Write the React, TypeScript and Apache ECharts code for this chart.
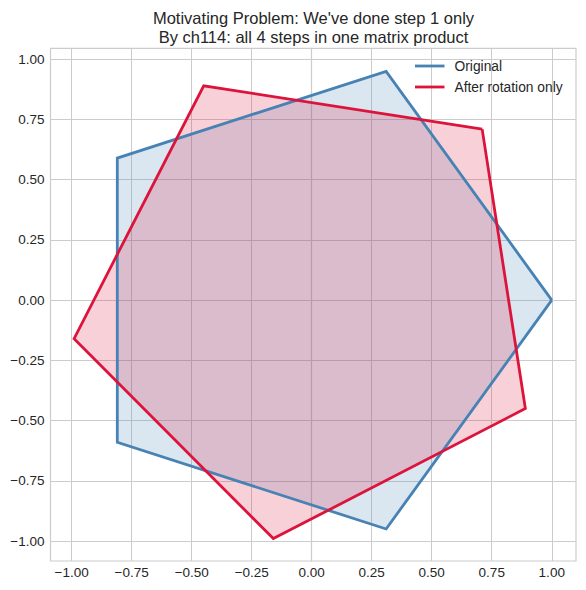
import React, { useEffect, useRef } from "react";
import * as echarts from "echarts";

const TITLE_LINES = [
  "Motivating Problem: We've done step 1 only",
  "By ch114: all 4 steps in one matrix product",
];
const SERIES_NAMES = ["Original", "After rotation only"];
const ORIG_X = [1.0, 0.31, -0.81, -0.81, 0.31];
const ORIG_Y = [0.0, 0.95, 0.59, -0.59, -0.95];
const ROT_X = [0.71, -0.45, -0.99, -0.16, 0.89];
const ROT_Y = [0.71, 0.89, -0.16, -0.99, -0.45];
const X_TICKS = [-1.0, -0.75, -0.5, -0.25, 0.0, 0.25, 0.5, 0.75, 1.0];
const Y_TICKS = [-1.0, -0.75, -0.5, -0.25, 0.0, 0.25, 0.5, 0.75, 1.0];
const X_MIN = -1.0883;
const X_MAX = 1.101;
const Y_MIN = -1.083;
const Y_MAX = 1.0457;

const FONT = "'Liberation Sans', Arial, sans-serif";
const TEXT_COLOR = "#262626";
const GRID_COLOR = "#cccccc";
const COLORS = ["#4682b4", "#dc143c"];
const FILLS = ["rgba(70,130,180,0.2)", "rgba(220,20,60,0.2)"];

const fmt = (v: number) => v.toFixed(2).replace("-", "\u2212");

function closed(xs: number[], ys: number[]) {
  const pts = xs.map((x, i) => [x, ys[i]]);
  pts.push([xs[0], ys[0]]);
  return pts;
}

function fillSeries(xs: number[], ys: number[], fill: string, z: number) {
  return {
    type: "custom",
    silent: true,
    clip: false,
    z,
    data: [[xs[0], ys[0]]],
    renderItem: (_params: any, api: any) => ({
      type: "polygon",
      shape: { points: xs.map((x, i) => api.coord([x, ys[i]])) },
      style: { fill, stroke: "none" },
    }),
  };
}

function lineSeries(name: string, xs: number[], ys: number[], color: string, z: number) {
  return {
    name,
    type: "line",
    z,
    symbol: "none",
    showSymbol: false,
    data: closed(xs, ys),
    lineStyle: { color, width: 2.8, join: "miter" },
    itemStyle: { color },
  };
}

export default function App() {
  const ref = useRef<HTMLDivElement>(null);
  useEffect(() => {
    document.body.style.margin = "0";
    const chart = echarts.init(ref.current!, null, { renderer: "svg" });
    const axisCommon = {
      type: "value",
      axisLine: { show: true, lineStyle: { color: GRID_COLOR, width: 1.2 } },
      splitLine: { show: true, lineStyle: { color: GRID_COLOR, width: 1 } },
    };
    chart.setOption({
      animation: false,
      backgroundColor: "#ffffff",
      textStyle: { fontFamily: FONT },
      grid: {
        left: 50.5,
        top: 48.3,
        width: 525.5,
        height: 512.7,
        show: true,
        borderColor: GRID_COLOR,
        borderWidth: 1.2,
        containLabel: false,
      },
      graphic: TITLE_LINES.map((t, i) => ({
        type: "text",
        x: 313.5,
        y: 17.5 + i * 19.5,
        style: {
          text: t,
          fontSize: 16.5,
          fontFamily: FONT,
          fill: TEXT_COLOR,
          align: "center",
          verticalAlign: "middle",
        },
      })),
      legend: {
        data: SERIES_NAMES,
        orient: "vertical",
        left: 415,
        top: 59,
        padding: 0,
        icon: "rect",
        itemWidth: 29.5,
        itemHeight: 2.8,
        itemGap: 7,
        textStyle: { fontSize: 13.8, color: TEXT_COLOR, fontFamily: FONT, padding: [0, 0, 0, 5] },
      },
      xAxis: {
        ...axisCommon,
        min: X_MIN,
        max: X_MAX,
        axisTick: { show: false, customValues: X_TICKS },
        axisLabel: {
          customValues: X_TICKS,
          formatter: fmt,
          fontSize: 13.5,
          color: TEXT_COLOR,
          fontFamily: FONT,
          margin: 4,
        },
      },
      yAxis: {
        ...axisCommon,
        min: Y_MIN,
        max: Y_MAX,
        axisTick: { show: false, customValues: Y_TICKS },
        axisLabel: {
          customValues: Y_TICKS,
          formatter: fmt,
          fontSize: 13.5,
          color: TEXT_COLOR,
          fontFamily: FONT,
          margin: 6,
        },
      },
      series: [
        fillSeries(ORIG_X, ORIG_Y, FILLS[0], 1),
        fillSeries(ROT_X, ROT_Y, FILLS[1], 2),
        lineSeries(SERIES_NAMES[0], ORIG_X, ORIG_Y, COLORS[0], 3),
        lineSeries(SERIES_NAMES[1], ROT_X, ROT_Y, COLORS[1], 4),
      ],
    });
    return () => chart.dispose();
  }, []);
  return <div ref={ref} style={{ width: 586, height: 590 }} />;
}
